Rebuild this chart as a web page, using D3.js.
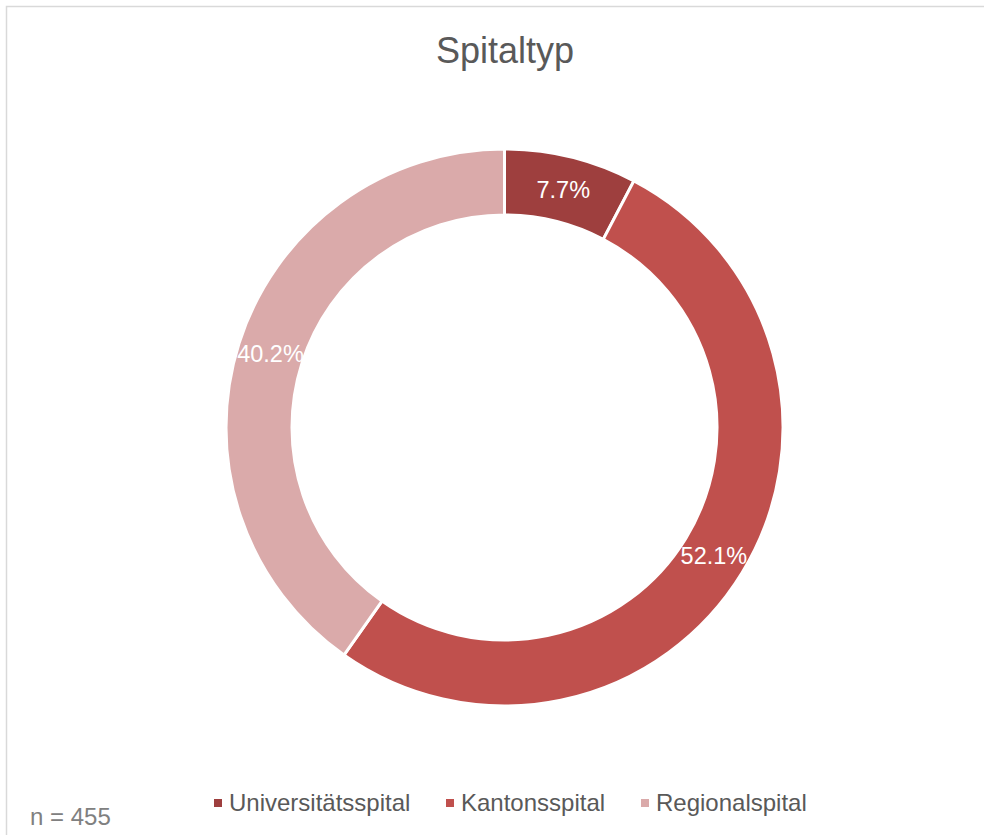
<!DOCTYPE html>
<html lang="de">
<head>
  <meta charset="UTF-8" />
  <title>Spitaltyp</title>
  <script src="https://d3js.org/d3.v7.min.js"></script>
  <style>
    body {
      margin: 0;
      background: #fff;
      font-family: "Liberation Sans", Arial, sans-serif;
    }
    svg {
      display: block;
    }
  </style>
</head>
<body>
  <svg id="chart" width="984" height="835"></svg>

  <script>
    // data (n = 455)
    const categories = ["Universitätsspital", "Kantonsspital", "Regionalspital"];
    const counts = [35, 237, 183];
    const percentLabels = ["7.7%", "52.1%", "40.2%"];
    const colors = ["#9E3F3E", "#C0504D", "#DAAAAA"];
    const title = "Spitaltyp";
    const footnote = "n = 455";

    const width = 984, height = 835;
    const cx = 504.5, cy = 427.5;
    const outerR = 278.5, innerR = 212.5;

    const svg = d3.select("#chart");

    // chart area border (runs off the right and bottom)
    svg.append("rect")
      .attr("x", 6.5).attr("y", 6.5)
      .attr("width", width + 20).attr("height", height + 20)
      .attr("fill", "#fff")
      .attr("stroke", "#d9d9d9")
      .attr("stroke-width", 1.5);

    svg.append("text")
      .attr("x", 505).attr("y", 63)
      .attr("text-anchor", "middle")
      .attr("font-size", 36)
      .attr("fill", "#595959")
      .text(title);

    const pie = d3.pie().sort(null).value(d => d)(counts);
    const arc = d3.arc().innerRadius(innerR).outerRadius(outerR);

    const g = svg.append("g").attr("transform", `translate(${cx},${cy})`);

    g.selectAll("path")
      .data(pie)
      .join("path")
      .attr("d", arc)
      .attr("fill", (d, i) => colors[i])
      .attr("stroke", "#fff")
      .attr("stroke-width", 3)
      .attr("stroke-linejoin", "miter");

    g.selectAll("text.lbl")
      .data(pie)
      .join("text")
      .attr("class", "lbl")
      .attr("transform", d => `translate(${arc.centroid(d)})`)
      .attr("text-anchor", "middle")
      .attr("dy", "0.36em")
      .attr("font-size", 23.5)
      .attr("fill", "#fff")
      .text((d, i) => percentLabels[i]);

    // legend
    const legendX = [214, 446, 641];
    const legend = svg.append("g");
    categories.forEach((c, i) => {
      legend.append("rect")
        .attr("x", legendX[i]).attr("y", 799)
        .attr("width", 8).attr("height", 8)
        .attr("fill", colors[i]);
      legend.append("text")
        .attr("x", legendX[i] + 15).attr("y", 811)
        .attr("font-size", 24)
        .attr("fill", "#595959")
        .text(c);
    });

    svg.append("text")
      .attr("x", 30).attr("y", 825)
      .attr("font-size", 24)
      .attr("fill", "#808080")
      .text(footnote);
  </script>
</body>
</html>
